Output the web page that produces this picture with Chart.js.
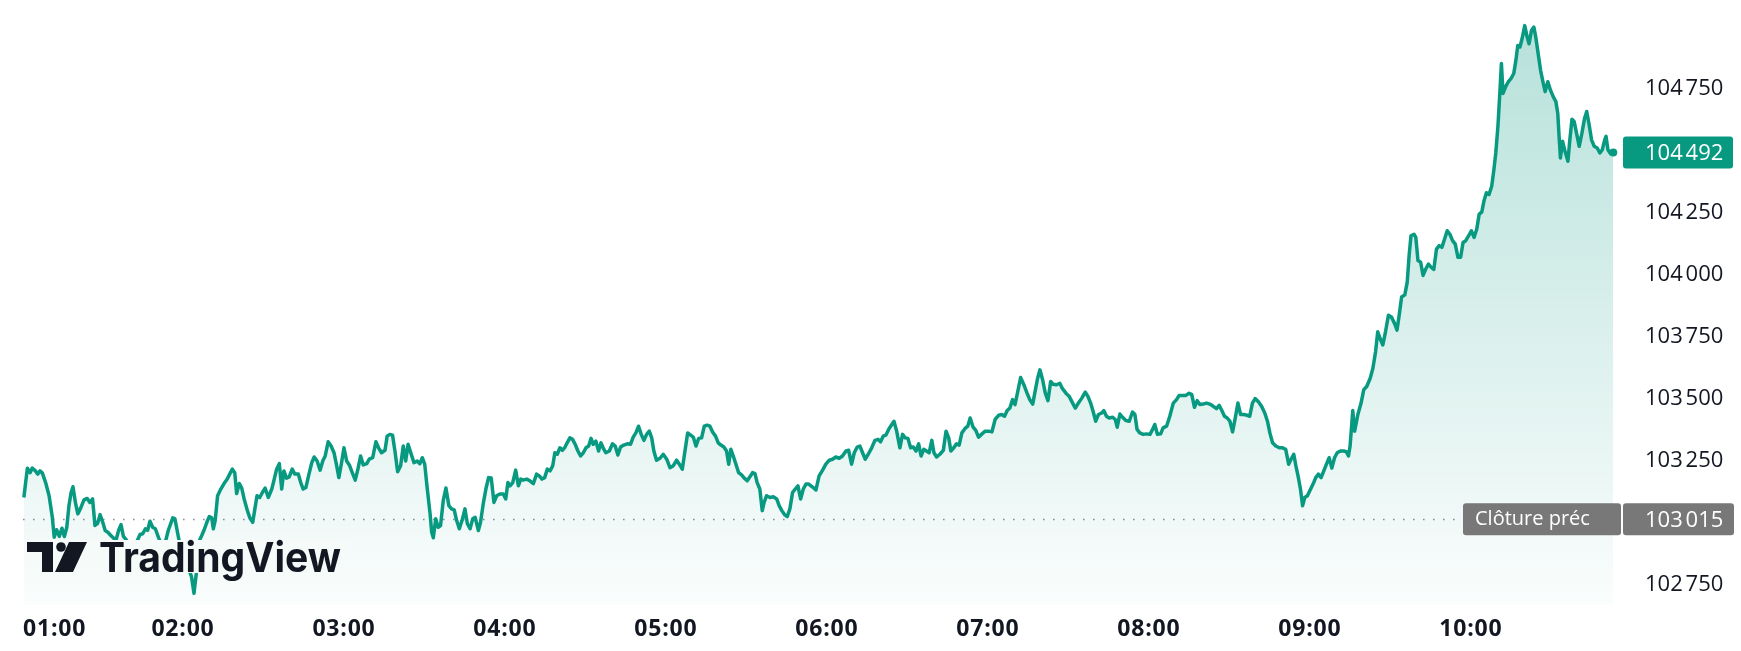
<!DOCTYPE html>
<html lang="fr">
<head>
<meta charset="UTF-8">
<title>Intraday — 01:00 à 10:53</title>
<script src="https://cdn.jsdelivr.net/npm/chart.js@4/dist/chart.umd.min.js"></script>
<style>
  * { margin: 0; padding: 0; box-sizing: border-box; }
  html, body { width: 1741px; height: 651px; background: #fff; overflow: hidden; }
  canvas { display: block; }
</style>
</head>
<body>
<canvas id="chart" width="1741" height="651"></canvas>
<script>
// ── Data (minutes after midnight / price) ────────────────────────────────────
const TIMES = [
  60.7, 62.0, 63.0, 63.8, 65.0, 65.9, 66.7, 67.6, 68.8, 70.1, 71.3, 72.0, 72.9, 73.9, 74.9, 75.8, 76.7, 77.5, 78.3, 79.0,
  79.9, 80.8, 81.9, 83.1, 84.3, 85.3, 86.3, 87.2, 88.2, 89.1, 90.1, 91.0, 92.0, 93.1, 94.0, 95.0, 96.0, 96.9, 97.8, 98.8,
  100.6, 103.0, 104.0, 105.0, 106.0, 106.8, 107.7, 108.7, 109.7, 110.9, 111.8, 113.6, 114.5, 115.4, 116.2, 117.0, 117.7, 118.9, 121.4, 123.2,
  124.1, 125.1, 126.0, 127.0, 127.9, 128.9, 129.8, 130.7, 131.3, 132.0, 132.9, 134.1, 135.3, 136.5, 137.5, 138.4, 139.3, 140.0, 141.0, 141.9,
  142.8, 144.0, 145.0, 146.0, 146.8, 147.6, 148.6, 149.6, 150.6, 151.8, 153.1, 153.7, 154.9, 155.9, 156.8, 157.6, 158.6, 159.6, 160.7, 161.7,
  163.0, 163.9, 164.8, 165.8, 166.8, 168.0, 168.9, 170.0, 171.1, 172.1, 173.0, 174.1, 175.2, 176.3, 177.3, 178.1, 179.1, 180.0, 181.0, 182.0,
  183.1, 184.2, 185.2, 186.2, 187.2, 188.5, 189.4, 190.7, 191.9, 192.9, 194.0, 195.3, 196.1, 197.1, 198.1, 199.0, 200.0, 201.1, 202.1, 203.0,
  203.9, 204.9, 206.1, 207.3, 208.3, 209.2, 210.1, 211.0, 212.1, 212.7, 213.3, 214.2, 215.1, 216.0, 217.0, 218.0, 219.1, 220.1, 221.1, 222.0,
  223.0, 224.0, 225.1, 226.0, 227.0, 228.0, 228.9, 230.1, 230.9, 231.9, 232.9, 233.9, 234.9, 235.9, 236.9, 238.1, 239.4, 240.3, 241.1, 241.9,
  242.9, 244.0, 245.0, 245.9, 246.8, 248.1, 249.3, 250.6, 251.8, 252.8, 253.8, 254.8, 255.8, 256.8, 257.8, 258.6, 259.5, 260.5, 261.4, 262.4,
  263.2, 264.2, 265.2, 266.2, 267.2, 268.2, 269.2, 270.2, 271.2, 272.1, 272.9, 273.9, 274.9, 275.8, 276.6, 277.6, 278.9, 280.1, 281.1, 282.1,
  283.1, 284.3, 285.6, 286.8, 287.8, 288.8, 289.8, 290.8, 291.8, 292.8, 293.8, 294.7, 295.5, 296.5, 297.8, 299.0, 300.3, 301.5, 302.7, 304.0,
  305.0, 306.1, 307.1, 308.1, 309.2, 310.2, 311.2, 312.2, 313.3, 314.3, 315.4, 316.4, 317.4, 318.5, 319.5, 320.5, 321.6, 322.6, 323.4, 324.2,
  325.1, 326.1, 327.1, 328.2, 329.2, 330.3, 331.3, 332.3, 333.2, 334.0, 335.0, 335.9, 336.6, 337.5, 338.8, 340.0, 341.3, 342.2, 343.2, 344.2,
  345.2, 346.2, 347.2, 348.2, 349.2, 350.2, 351.2, 352.2, 353.2, 354.9, 355.9, 357.1, 358.4, 359.6, 360.9, 362.1, 363.3, 364.6, 365.8, 367.1,
  368.1, 369.2, 370.2, 371.3, 372.3, 373.3, 374.3, 375.4, 376.7, 377.9, 379.1, 380.0, 381.0, 382.0, 383.0, 384.0, 385.0, 386.0, 387.2, 388.2,
  389.2, 390.2, 391.2, 392.2, 393.2, 394.2, 395.1, 396.1, 397.1, 398.1, 399.1, 399.9, 400.9, 402.1, 403.4, 404.4, 405.4, 406.2, 407.3, 408.3,
  409.3, 410.3, 411.5, 412.5, 413.4, 414.5, 415.5, 416.5, 417.8, 419.0, 420.2, 421.5, 422.7, 424.0, 425.2, 426.2, 427.2, 428.2, 429.2, 430.1,
  430.9, 432.2, 433.4, 434.6, 435.6, 436.7, 437.6, 438.5, 439.4, 440.4, 441.4, 442.4, 443.4, 444.3, 445.6, 446.8, 447.8, 449.1, 450.3, 451.6,
  452.6, 453.5, 455.0, 456.3, 457.3, 458.3, 459.2, 460.2, 461.2, 462.4, 463.2, 464.2, 465.2, 466.5, 467.5, 468.2, 469.2, 470.2, 471.4, 472.7,
  473.9, 474.8, 475.6, 476.6, 477.9, 479.1, 480.4, 481.4, 482.2, 483.2, 484.4, 485.3, 486.6, 487.8, 489.1, 490.3, 491.3, 492.6, 493.8, 495.0,
  496.0, 497.0, 498.0, 499.0, 500.2, 501.5, 502.7, 504.0, 505.2, 506.2, 507.2, 508.2, 509.2, 510.2, 511.2, 512.2, 513.2, 514.2, 515.4, 516.6,
  517.6, 518.6, 519.6, 520.7, 522.0, 523.2, 524.2, 525.1, 526.1, 527.3, 528.6, 529.8, 531.0, 532.1, 533.0, 534.0, 534.8, 535.6, 536.5, 537.3,
  538.1, 539.1, 540.3, 541.2, 542.2, 543.2, 544.2, 545.2, 546.2, 547.2, 548.2, 549.2, 550.2, 551.4, 552.6, 553.6, 554.4, 555.0, 556.0, 556.7,
  557.9, 559.1, 560.1, 561.2, 562.5, 563.5, 564.5, 565.3, 566.2, 567.2, 568.2, 569.3, 570.4, 571.6, 572.5, 573.3, 574.2, 575.4, 576.3, 577.0,
  577.7, 578.8, 579.5, 580.3, 581.3, 582.2, 583.2, 584.2, 585.2, 586.2, 587.2, 588.2, 589.2, 590.2, 591.2, 592.2, 593.2, 594.2, 595.2, 596.2,
  597.1, 598.1, 599.2, 600.2, 601.2, 602.2, 603.1, 604.1, 604.9, 605.8, 606.8, 607.8, 608.6, 609.3, 610.1, 610.8, 611.4, 612.0, 613.0, 614.0,
  615.0, 616.0, 616.8, 617.5, 618.3, 619.1, 620.1, 621.0, 621.7, 622.6, 623.5, 624.2, 625.1, 626.0, 627.0, 627.7, 628.7, 629.7, 630.7, 631.7,
  632.4, 632.9, 633.4, 634.2, 635.1, 636.2, 636.9, 637.7, 638.5, 639.4, 640.4, 641.4, 642.4, 643.2, 644.0, 645.0, 646.0, 647.1, 648.1, 649.0,
  649.9, 650.4, 651.1, 652.1, 653.1
];

const PRICES = [
  103103, 103221, 103203, 103221, 103210, 103197, 103210, 103201, 103163, 103110, 103023, 102943, 102973, 102946, 102979, 102946, 102983, 103070, 103123, 103146,
  103083, 103037, 103061, 103093, 103099, 103083, 103097, 102990, 102999, 103034, 103003, 102970, 102963, 102950, 102941, 102930, 102970, 102994, 102946, 102933,
  102898, 102930, 102954, 102957, 102977, 102970, 103007, 102983, 102977, 102941, 102917, 102930, 102970, 102997, 103021, 103017, 102977, 102910, 102838, 102783,
  102717, 102810, 102927, 102950, 102973, 103003, 103026, 103021, 102977, 103010, 103110, 103137, 103159, 103177, 103199, 103217, 103203, 103119, 103159, 103141,
  103097, 103050, 103019, 103003, 103057, 103110, 103103, 103123, 103141, 103103, 103137, 103163, 103217, 103239, 103137, 103210, 103181, 103186, 103217, 103197,
  103197, 103163, 103137, 103143, 103190, 103243, 103266, 103250, 103213, 103250, 103270, 103327, 103310, 103283, 103230, 103183, 103243, 103303, 103250, 103234,
  103203, 103173, 103217, 103270, 103234, 103239, 103257, 103263, 103327, 103303, 103283, 103293, 103350, 103357, 103354, 103290, 103207, 103230, 103310, 103250,
  103317, 103283, 103243, 103250, 103239, 103263, 103237, 103143, 103037, 102963, 102941, 103017, 102983, 102990, 103090, 103141, 103070, 103057, 103053, 103010,
  102977, 103010, 103057, 102997, 102977, 103017, 103023, 102970, 103003, 103077, 103137, 103183, 103181, 103083, 103110, 103117, 103117, 103097, 103163, 103150,
  103163, 103213, 103150, 103177, 103173, 103177, 103170, 103159, 103197, 103190, 103177, 103183, 103217, 103210, 103230, 103283, 103277, 103303, 103293, 103306,
  103323, 103343, 103337, 103317, 103290, 103270, 103283, 103303, 103310, 103341, 103317, 103330, 103290, 103323, 103303, 103283, 103290, 103319, 103310, 103274,
  103306, 103314, 103319, 103317, 103346, 103363, 103390, 103357, 103333, 103357, 103370, 103343, 103290, 103253, 103261, 103277, 103257, 103223, 103230, 103253,
  103237, 103217, 103290, 103363, 103354, 103346, 103310, 103341, 103343, 103390, 103394, 103390, 103367, 103350, 103323, 103314, 103306, 103290, 103237, 103297,
  103270, 103237, 103203, 103194, 103181, 103170, 103186, 103203, 103199, 103163, 103137, 103050, 103083, 103110, 103103, 103106, 103097, 103070, 103050, 103034,
  103026, 103057, 103123, 103137, 103150, 103097, 103137, 103157, 103157, 103143, 103133, 103190, 103213, 103237, 103253, 103257, 103266, 103261, 103270, 103290,
  103293, 103237, 103283, 103306, 103310, 103283, 103257, 103277, 103303, 103333, 103337, 103327, 103350, 103354, 103377, 103394, 103410, 103370, 103303, 103357,
  103343, 103341, 103303, 103306, 103290, 103319, 103270, 103297, 103290, 103283, 103333, 103283, 103266, 103277, 103293, 103370, 103343, 103290, 103303, 103319,
  103314, 103363, 103381, 103390, 103423, 103386, 103373, 103346, 103359, 103370, 103370, 103367, 103417, 103434, 103437, 103430, 103453, 103463, 103497, 103477,
  103517, 103586, 103557, 103523, 103497, 103479, 103530, 103581, 103617, 103577, 103523, 103493, 103570, 103559, 103557, 103563, 103541, 103523, 103510, 103483,
  103463, 103479, 103503, 103527, 103510, 103483, 103450, 103410, 103437, 103443, 103453, 103430, 103423, 103426, 103417, 103386, 103439, 103426, 103413, 103410,
  103447, 103437, 103377, 103363, 103357, 103359, 103357, 103377, 103397, 103357, 103359, 103383, 103390, 103430, 103483, 103497, 103514, 103514, 103514, 103523,
  103517, 103466, 103493, 103477, 103479, 103483, 103479, 103470, 103461, 103474, 103453, 103430, 103423, 103410, 103367, 103423, 103483, 103437, 103437, 103434,
  103430, 103483, 103501, 103490, 103470, 103443, 103410, 103363, 103323, 103310, 103303, 103303, 103297, 103237, 103257, 103277, 103230, 103190, 103137, 103070,
  103103, 103110, 103137, 103157, 103183, 103197, 103183, 103210, 103237, 103263, 103221, 103263, 103283, 103290, 103290, 103287, 103270, 103310, 103453, 103370,
  103437, 103483, 103537, 103550, 103583, 103623, 103690, 103770, 103743, 103717, 103770, 103837, 103830, 103803, 103777, 103837, 103910, 103919, 103970, 104077,
  104157, 104163, 104150, 104057, 104050, 103997, 104023, 104043, 104030, 104021, 104103, 104117, 104110, 104143, 104177, 104163, 104137, 104123, 104070, 104070,
  104130, 104137, 104157, 104177, 104150, 104183, 104243, 104253, 104297, 104330, 104323, 104357, 104423, 104490, 104597, 104730, 104850, 104730, 104757, 104777,
  104790, 104810, 104863, 104923, 104917, 104950, 105003, 104957, 104930, 104983, 104997, 104957, 104890, 104823, 104770, 104737, 104777, 104743, 104717, 104697,
  104650, 104557, 104470, 104537, 104497, 104457, 104543, 104626, 104617, 104570, 104517, 104570, 104630, 104657, 104610, 104543, 104517, 104510, 104490, 104503,
  104543, 104557, 104503, 104487, 104492
];

const PRICE_TICKS = [102750, 103000, 103250, 103500, 103750, 104000, 104250, 104500, 104750];
const HOUR_TICKS = [60, 120, 180, 240, 300, 360, 420, 480, 540, 600];
const PREV_CLOSE = 103015;
const PREV_CLOSE_LABEL = 'Clôture préc';
const LAST_PRICE = PRICES[PRICES.length - 1];
const BRAND = 'TradingView';

// ── Helpers ──────────────────────────────────────────────────────────────────

const GREEN = '#089981';
const TEXT = '#131722';
const fmtPrice = (v) => String(v).replace(/\B(?=(\d{3})+$)/g, '\u202F');
const fmtHour = (m) => String(Math.floor(m / 60)).padStart(2, '0') + ':' + String(m % 60).padStart(2, '0');

function roundRect(ctx, x, y, w, h, r, fill) {
  ctx.beginPath();
  ctx.roundRect(x, y, w, h, r);
  ctx.fillStyle = fill;
  ctx.fill();
}

// prev close dotted line, under the series
const prevClosePlugin = {
  id: 'prevCloseLine',
  beforeDatasetsDraw(chart) {
    const { ctx, chartArea, scales } = chart;
    const y = Math.round(scales.y.getPixelForValue(PREV_CLOSE)) + 0.5;
    ctx.save();
    ctx.strokeStyle = '#8f8f8f';
    ctx.lineWidth = 1.6;
    ctx.setLineDash([1.6, 8.4]);
    ctx.beginPath();
    ctx.moveTo(chartArea.left + 1, y);
    ctx.lineTo(1462, y);
    ctx.stroke();
    ctx.restore();
  },
};

// watermark logo, drawn over the line
const logoPlugin = {
  id: 'logo',
  afterDatasetsDraw(chart) {
    const { ctx } = chart;
    ctx.save();
    ctx.fillStyle = '#f6fbfa';
    ctx.fillRect(24, 540, 322, 33);
    ctx.fillStyle = TEXT;
    // icon: "T", dot, slash
    ctx.fillRect(27, 542, 26, 10);
    ctx.fillRect(42, 542, 11, 30);
    ctx.beginPath();
    ctx.arc(61, 547, 4.8, 0, Math.PI * 2);
    ctx.fill();
    ctx.beginPath();
    ctx.moveTo(69, 542);
    ctx.lineTo(87, 542);
    ctx.lineTo(73, 572);
    ctx.lineTo(55, 572);
    ctx.closePath();
    ctx.fill();
    ctx.font = '700 41px Inter, "Open Sans", sans-serif';
    ctx.textBaseline = 'alphabetic';
    ctx.textAlign = 'left';
    ctx.fillText(BRAND, 99, 572, 242);
    ctx.restore();
  },
};

// time labels and price tags
const overlayPlugin = {
  id: 'overlay',
  afterDraw(chart) {
    const { ctx, scales } = chart;
    ctx.save();
    // x labels (first one kept inside the canvas)
    ctx.font = '700 23px "Open Sans", sans-serif';
    ctx.letterSpacing = '0.8px';
    ctx.fillStyle = TEXT;
    ctx.textBaseline = 'middle';
    ctx.textAlign = 'left';
    HOUR_TICKS.forEach((m) => {
      const label = fmtHour(m);
      const w = ctx.measureText(label).width;
      const left = Math.max(scales.x.getPixelForValue(m) - w / 2, 23);
      ctx.fillText(label, left, 629);
    });
    ctx.letterSpacing = '0px';

    // last price tag
    ctx.font = '22px "Open Sans", sans-serif';
    const yLast = scales.y.getPixelForValue(LAST_PRICE);
    roundRect(ctx, 1623, yLast - 16, 110, 32, 3, GREEN);
    ctx.fillStyle = '#fff';
    ctx.fillText(fmtPrice(LAST_PRICE), 1645, yLast + 1);

    // previous close tag
    const yPrev = scales.y.getPixelForValue(PREV_CLOSE);
    roundRect(ctx, 1463, yPrev - 16, 158, 32, 3, '#787878');
    roundRect(ctx, 1623, yPrev - 16, 111, 32, 3, '#787878');
    ctx.fillStyle = '#fff';
    ctx.fillText(fmtPrice(PREV_CLOSE), 1645, yPrev + 1);
    ctx.font = '20px "Open Sans", sans-serif';
    ctx.fillText(PREV_CLOSE_LABEL, 1475, yPrev);
    ctx.restore();
  },
};

// ── Chart ────────────────────────────────────────────────────────────────────

const lastIdx = PRICES.length - 1;

new Chart(document.getElementById('chart'), {
  type: 'line',
  data: {
    datasets: [{
      data: TIMES.map((t, i) => ({ x: t, y: PRICES[i] })),
      borderColor: GREEN,
      borderWidth: 3.5,
      borderJoinStyle: 'round',
      tension: 0,
      fill: 'start',
      backgroundColor: (c) => {
        const area = c.chart.chartArea;
        if (!area) return 'rgba(8,153,129,0.1)';
        const g = c.chart.ctx.createLinearGradient(0, area.top, 0, area.bottom);
        g.addColorStop(0, 'rgba(8,153,129,0.30)');
        g.addColorStop(1, 'rgba(8,153,129,0.02)');
        return g;
      },
      pointRadius: (c) => (c.dataIndex === lastIdx ? 4 : 0),
      pointBackgroundColor: GREEN,
      pointBorderWidth: 0,
      pointHoverRadius: 0,
    }],
  },
  options: {
    responsive: false,
    animation: false,
    events: [],
    layout: { padding: { left: 22, top: 0, right: 0, bottom: 0 } },
    plugins: { legend: { display: false }, tooltip: { enabled: false } },
    scales: {
      x: {
        type: 'linear',
        min: 60,
        max: 655.6,
        grid: { display: false, drawTicks: false },
        border: { display: false },
        ticks: { display: false },
        afterBuildTicks: (s) => { s.ticks = HOUR_TICKS.map((v) => ({ value: v })); },
        afterFit: (s) => { s.height = 46; s.paddingLeft = 0; s.paddingRight = 0; },
      },
      y: {
        type: 'linear',
        position: 'right',
        min: 102670,
        max: 105090,
        grid: { display: false, drawTicks: false },
        border: { display: false },
        ticks: {
          padding: 25,
          color: TEXT,
          font: { family: '"Open Sans", sans-serif', size: 22 },
          callback: (v) => fmtPrice(v),
        },
        afterBuildTicks: (s) => { s.ticks = PRICE_TICKS.map((v) => ({ value: v })); },
        afterFit: (s) => { s.width = 121; s.paddingTop = 0; s.paddingBottom = 0; },
      },
    },
  },
  plugins: [prevClosePlugin, logoPlugin, overlayPlugin],
});
</script>
</body>
</html>
